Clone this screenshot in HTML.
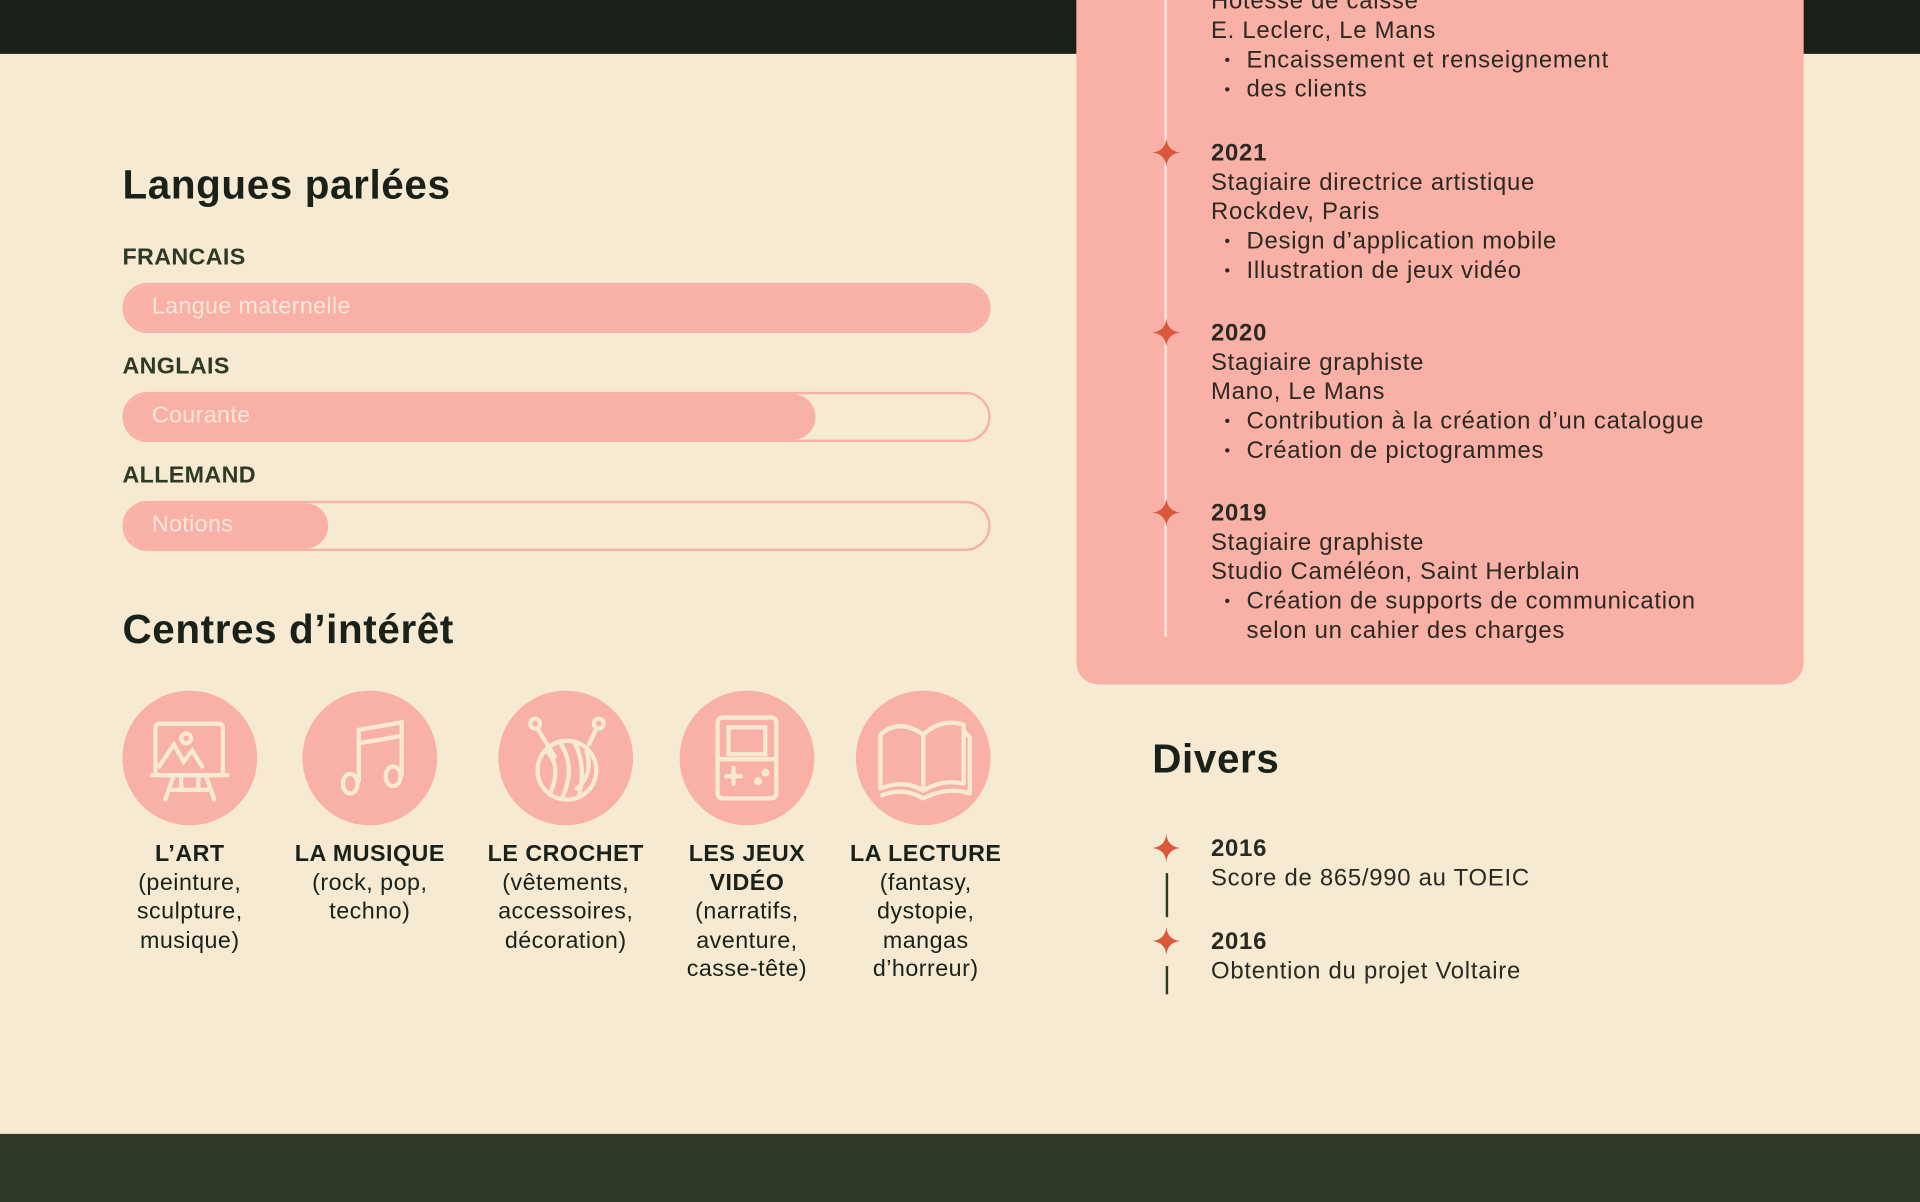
<!DOCTYPE html>
<html><head><meta charset="utf-8"><style>
html,body{margin:0;padding:0;width:1920px;height:1202px;overflow:hidden;background:#f7ead3}
#wrap{position:absolute;left:0;top:0;width:1568px;height:982px;transform:scale(1.22449);transform-origin:0 0;font-family:"Liberation Sans",sans-serif;color:#1a2118}
.abs{position:absolute}
h2{position:absolute;margin:0;font-size:33px;font-weight:bold;color:#1a2118;letter-spacing:0.5px}
.lang{position:absolute;left:100px;font-size:19px;font-weight:bold;color:#2f3a26;letter-spacing:0.3px}
.bar{position:absolute;left:100px;width:705px;height:37px;border:2px solid #f9b0a6;border-radius:21px;overflow:hidden}
.fill{position:absolute;left:0;top:0;height:100%;background:#f9b0a6;border-radius:21px}
.bartxt{position:absolute;left:22px;top:7px;font-size:19px;color:#fbe7dc;letter-spacing:0.3px}
.circ{position:absolute;width:110px;height:110px;border-radius:50%;background:#f9b0a6;top:564px}
.cap{position:absolute;top:686px;width:150px;text-align:center;font-size:19px;line-height:23.5px;color:#1a2118;letter-spacing:0.4px}
.cap b{font-weight:bold}
.t{position:absolute;left:989px;font-size:19.5px;line-height:24px;color:#2a2a22;letter-spacing:0.6px}
.t ul{margin:0;padding:0;list-style:none}
.t li{padding-left:29px;position:relative}
.t li:before{content:"•";position:absolute;left:11px;font-size:13px}
.star{position:absolute;left:941px;width:23px;height:23px}
</style></head><body>
<div id="wrap">
<div class="abs" style="left:0;top:0;width:1568px;height:44px;background:#1a2118"></div>
<div class="abs" style="left:0;top:926px;width:1568px;height:56px;background:#2f3a26"></div>
<div class="abs" style="left:879px;top:-20px;width:594px;height:579px;background:#f9b0a6;border-radius:18px"></div>
<div class="abs" style="left:951px;top:0;width:2px;height:520px;background:#fbe7dc"></div>

<h2 style="left:100px;top:132px">Langues parlées</h2>
<div id="langs"></div>

<h2 style="left:100px;top:495px">Centres d’intérêt</h2>

<div class="circ" style="left:100px"><svg width="110" height="110" viewBox="0 0 110 110" fill="none" stroke="#f7ead3" stroke-width="3.5" stroke-linecap="round"><rect x="27" y="27" width="55" height="42" rx="3"/><path d="M30 62 L42 44 L50 58 L57 49 L65 62"/><circle cx="52" cy="39" r="4"/><path d="M24 69 H86 M42 69 L35 89 M68 69 L75 89 M40 81 H70 M48 69 V80 M62 69 V80"/></svg></div>
<div class="circ" style="left:247px"><svg width="110" height="110" viewBox="0 0 110 110" fill="none" stroke="#f7ead3" stroke-width="3.5"><path d="M46 75 V32 L81 26 V70 M46 43 L81 37"/><ellipse cx="39" cy="76" rx="6" ry="8"/><ellipse cx="74" cy="70" rx="6" ry="8"/></svg></div>
<div class="circ" style="left:407px"><svg width="110" height="110" viewBox="0 0 110 110" fill="none" stroke="#f7ead3" stroke-width="3.5" stroke-linecap="round"><circle cx="56" cy="65" r="24"/><path d="M40 50 Q52 62 42 85 M50 42 Q64 62 52 88 M62 42 Q72 60 66 86 M72 50 Q78 68 64 80"/><circle cx="30" cy="27" r="4"/><circle cx="82" cy="27" r="4"/><path d="M32 31 L46 54 M80 31 L74 44"/></svg></div>
<div class="circ" style="left:555px"><svg width="110" height="110" viewBox="0 0 110 110" fill="none" stroke="#f7ead3" stroke-width="3.5" stroke-linecap="round"><rect x="31" y="22" width="48" height="66" rx="4"/><rect x="40" y="30" width="30" height="22"/><path d="M31 56 H79 M44 63 V76 M38 70 H50"/><circle cx="64" cy="74" r="1.5"/><circle cx="70" cy="67" r="1.5"/></svg></div>
<div class="circ" style="left:699px"><svg width="110" height="110" viewBox="0 0 110 110" fill="none" stroke="#f7ead3" stroke-width="3.5" stroke-linejoin="round"><path d="M20 36 Q35 22 55 36 Q70 22 88 28 V76 Q70 72 55 82 Q40 72 20 80 Z M55 36 V82 M88 33 L93 38 V84 Q75 78 55 88 Q38 78 20 86"/></svg></div>

<div class="cap" style="left:80px"><b>L’ART</b><br>(peinture,<br>sculpture,<br>musique)</div>
<div class="cap" style="left:227px"><b>LA MUSIQUE</b><br>(rock, pop,<br>techno)</div>
<div class="cap" style="left:387px"><b>LE CROCHET</b><br>(vêtements,<br>accessoires,<br>décoration)</div>
<div class="cap" style="left:535px"><b>LES JEUX<br>VIDÉO</b><br>(narratifs,<br>aventure,<br>casse-tête)</div>
<div class="cap" style="left:681px"><b>LA LECTURE</b><br>(fantasy,<br>dystopie,<br>mangas<br>d’horreur)</div>

<div class="t" style="top:-11px">Hôtesse de caisse<br>E. Leclerc, Le Mans<ul><li>Encaissement et renseignement</li><li>des clients</li></ul></div>
<div class="t" style="top:113px"><b>2021</b><br>Stagiaire directrice artistique<br>Rockdev, Paris<ul><li>Design d’application mobile</li><li>Illustration de jeux vidéo</li></ul></div>
<div class="t" style="top:260px"><b>2020</b><br>Stagiaire graphiste<br>Mano, Le Mans<ul><li>Contribution à la création d’un catalogue</li><li>Création de pictogrammes</li></ul></div>
<div class="t" style="top:407px"><b>2019</b><br>Stagiaire graphiste<br>Studio Caméléon, Saint Herblain<ul><li>Création de supports de communication<br>selon un cahier des charges</li></ul></div>

<h2 style="left:941px;top:601px">Divers</h2>
<div class="abs" style="left:952px;top:713px;width:2px;height:36px;background:#2f3a26"></div>
<div class="abs" style="left:952px;top:789px;width:2px;height:23px;background:#2f3a26"></div>
<div class="t" style="top:681px"><b>2016</b><br>Score de 865/990 au TOEIC</div>
<div class="t" style="top:757px"><b>2016</b><br>Obtention du projet Voltaire</div>

<svg class="star" style="top:113px" viewBox="0 0 24 24"><path d="M12 0 Q13 11 24 12 Q13 13 12 24 Q11 13 0 12 Q11 11 12 0Z" fill="#d9573a"/></svg>
<svg class="star" style="top:260px" viewBox="0 0 24 24"><path d="M12 0 Q13 11 24 12 Q13 13 12 24 Q11 13 0 12 Q11 11 12 0Z" fill="#d9573a"/></svg>
<svg class="star" style="top:407px" viewBox="0 0 24 24"><path d="M12 0 Q13 11 24 12 Q13 13 12 24 Q11 13 0 12 Q11 11 12 0Z" fill="#d9573a"/></svg>
<svg class="star" style="top:681px" viewBox="0 0 24 24"><path d="M12 0 Q13 11 24 12 Q13 13 12 24 Q11 13 0 12 Q11 11 12 0Z" fill="#d9573a"/></svg>
<svg class="star" style="top:757px" viewBox="0 0 24 24"><path d="M12 0 Q13 11 24 12 Q13 13 12 24 Q11 13 0 12 Q11 11 12 0Z" fill="#d9573a"/></svg>
</div>
<script>
const languages = ["FRANCAIS", "ANGLAIS", "ALLEMAND"];
const levels = ["Langue maternelle", "Courante", "Notions"];
const proficiency = [100, 80, 23.5];
const c = document.getElementById('langs');
languages.forEach(function (name, i) {
  const top = 200 + i * 89;
  const l = document.createElement('div');
  l.className = 'lang';
  l.style.top = top + 'px';
  l.textContent = name;
  
  
  c.appendChild(l);
  const b = document.createElement('div');
  b.className = 'bar';
  b.style.top = (top + 31) + 'px';
  
  
  const f = document.createElement('div');
  f.className = 'fill';
  f.style.width = proficiency[i] + '%';
  
  
  b.appendChild(f);
  const t = document.createElement('div');
  t.className = 'bartxt';
  t.textContent = levels[i];
  
  
  b.appendChild(t);
  c.appendChild(b);
});
</script>
</body></html>
